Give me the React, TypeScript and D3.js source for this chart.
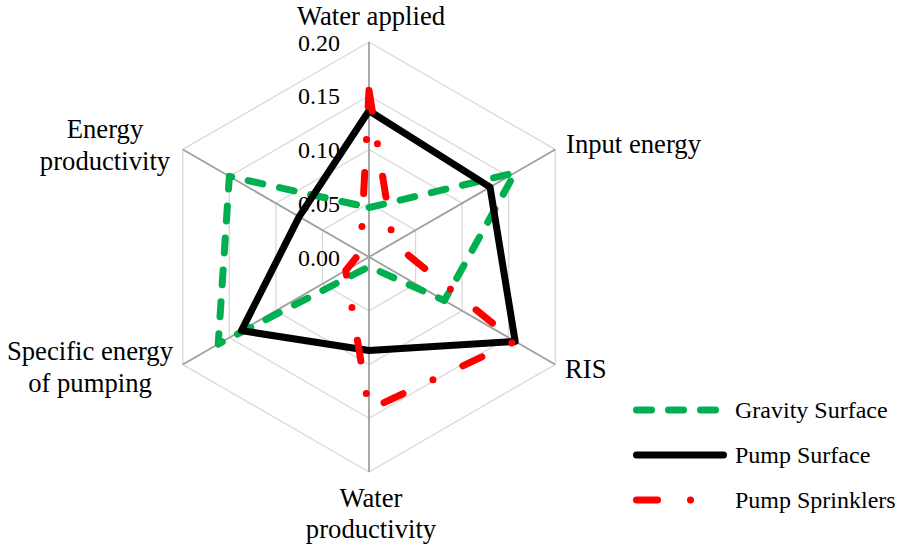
import React from "react";
import * as d3 from "d3";

const categories = [
  "Water applied",
  "Input energy",
  "RIS",
  "Water productivity",
  "Specific energy of pumping",
  "Energy productivity",
];
const categoryLines = [
  ["Water applied"],
  ["Input energy"],
  ["RIS"],
  ["Water", "productivity"],
  ["Specific energy", "of pumping"],
  ["Energy", "productivity"],
];
const seriesNames = ["Gravity Surface", "Pump Surface", "Pump Sprinklers"];
const gravitySurface = [0.046, 0.157, 0.081, 0.009, 0.162, 0.15];
const pumpSurface = [0.136, 0.13, 0.157, 0.087, 0.137, 0.075];
const pumpSprinklers = [0.155, 0.026, 0.157, 0.142, 0.025, 0.009];
const radialTicks = [0, 0.05, 0.1, 0.15, 0.2];

const W = 898;
const H = 549;
const cx = 369;
const cy = 257;
const font = `"Liberation Serif"`;

// where each category label sits (anchor, x, baselines)
const labelPos = [
  { anchor: "middle", x: 371, y: [25] },
  { anchor: "start", x: 566, y: [153] },
  { anchor: "start", x: 565, y: [378] },
  { anchor: "middle", x: 371, y: [507, 538] },
  { anchor: "middle", x: 90, y: [360, 392] },
  { anchor: "middle", x: 105, y: [138, 170] },
];

const styles = [
  { stroke: "#00b050", dash: "15 17" },
  { stroke: "#000000", dash: null },
  { stroke: "#ff0000", dash: "21 33 0 33" },
];

export default function App() {
  const r = d3.scaleLinear().domain([0, 0.2]).range([0, 215]);
  const step = (2 * Math.PI) / categories.length;

  const radial = d3
    .lineRadial<number>()
    .angle((_, i) => i * step)
    .radius((d) => r(d))
    .curve(d3.curveLinearClosed);

  const all = [gravitySurface, pumpSurface, pumpSprinklers];
  const fmt = d3.format(".2f");
  const rMax = r(radialTicks[radialTicks.length - 1]);

  return (
    <svg
      width={W}
      height={H}
      style={{ position: "absolute", left: 0, top: 0, background: "#fff" }}
    >
      <g transform={`translate(${cx},${cy})`}>
        {radialTicks
          .filter((t) => t > 0)
          .map((t) => (
            <path
              key={t}
              d={radial(categories.map(() => t)) || ""}
              fill="none"
              stroke="#d9d9d9"
              strokeWidth={1.3}
            />
          ))}
        {categories.map((c, i) => (
          <line
            key={c}
            x1={0}
            y1={0}
            x2={rMax * Math.sin(i * step)}
            y2={-rMax * Math.cos(i * step)}
            stroke="#a0a0a0"
            strokeWidth={1.8}
          />
        ))}
        {radialTicks.map((t) => (
          <text
            key={t}
            x={-29}
            y={-r(t) + 8.5}
            textAnchor="end"
            fontSize={24}
            fill="#000"
            style={{ fontFamily: font }}
          >
            {fmt(t)}
          </text>
        ))}
        {all.map((vals, k) => (
          <path
            key={seriesNames[k]}
            d={radial(vals) || ""}
            fill="none"
            stroke={styles[k].stroke}
            strokeWidth={7}
            strokeLinecap="round"
            strokeLinejoin="round"
            strokeDasharray={styles[k].dash || undefined}
          />
        ))}
      </g>

      {categoryLines.map((lines, i) => (
        <text
          key={categories[i]}
          textAnchor={labelPos[i].anchor}
          fontSize={26.67}
          fill="#000"
          style={{ fontFamily: font }}
        >
          {lines.map((ln, j) => (
            <tspan key={j} x={labelPos[i].x} y={labelPos[i].y[j]}>
              {ln}
            </tspan>
          ))}
        </text>
      ))}

      {seriesNames.map((name, k) => {
        const y = 410 + k * 45;
        return (
          <g key={name}>
            <line
              x1={636.5}
              x2={723.5}
              y1={y}
              y2={y}
              stroke={styles[k].stroke}
              strokeWidth={7}
              strokeLinecap="round"
              strokeDasharray={styles[k].dash || undefined}
            />
            <text x={735} y={y + 7.5} fontSize={24} fill="#000" style={{ fontFamily: font }}>
              {name}
            </text>
          </g>
        );
      })}
    </svg>
  );
}
